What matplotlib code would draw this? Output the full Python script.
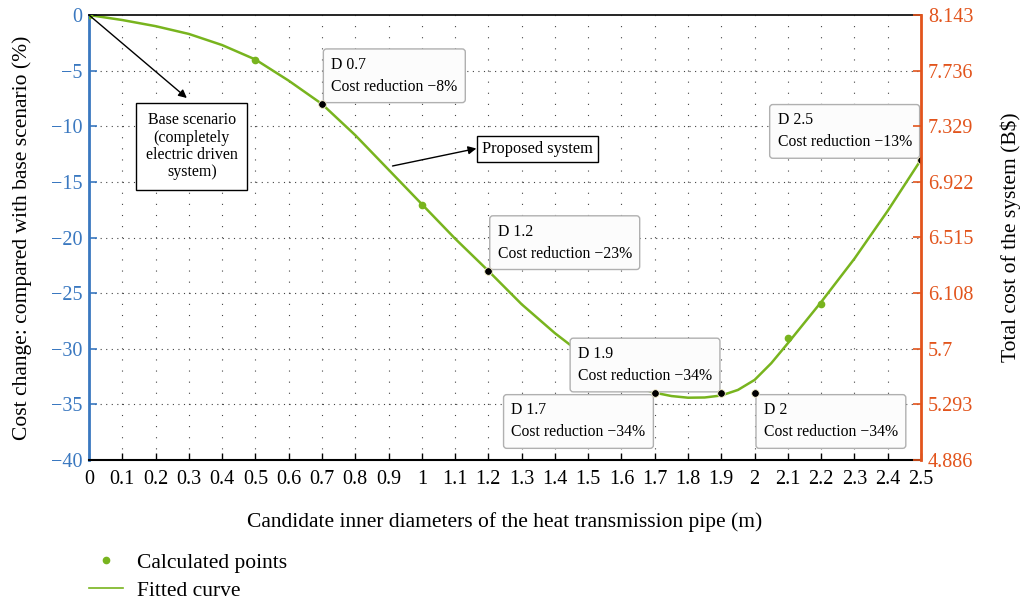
import numpy as np
import matplotlib.pyplot as plt
from matplotlib.lines import Line2D

plt.rcParams['font.family'] = ['Liberation Serif', 'DejaVu Serif']
plt.rcParams['axes.unicode_minus'] = True

GREEN = '#78b41e'
BLUE = '#3a78c0'
ORANGE = '#e2541c'

# calculated points (diameter in m, cost change in %)
calc_d = [0, 0.5, 0.7, 1.0, 1.2, 1.7, 1.9, 2.0, 2.1, 2.2, 2.5]
calc_pct = [0, -4.0, -8, -17.1, -23, -34, -34, -34, -29.0, -26.0, -13]

# highlighted candidates
key_d = [0.7, 1.2, 1.7, 1.9, 2.0, 2.5]
key_pct = [-8, -23, -34, -34, -34, -13]
key_names = ['D 0.7', 'D 1.2', 'D 1.7', 'D 1.9', 'D 2', 'D 2.5']
reductions = ['\u22128%', '\u221223%', '\u221234%', '\u221234%', '\u221234%', '\u221213%']

# fitted curve samples
fit_d = [0, 0.1, 0.2, 0.3, 0.4, 0.5, 0.6, 0.7, 0.8, 0.9, 1.0, 1.1, 1.2, 1.3,
         1.4, 1.5, 1.6, 1.65, 1.7, 1.75, 1.8, 1.85, 1.9, 1.95, 2.0, 2.05, 2.1,
         2.2, 2.3, 2.4, 2.5]
fit_pct = [0, -0.45, -1.0, -1.7, -2.7, -4.0, -5.9, -8.0, -10.8, -13.9, -17.0,
           -20.1, -23.0, -26.0, -28.6, -30.9, -32.8, -33.5, -33.95, -34.25,
           -34.4, -34.38, -34.2, -33.7, -32.8, -31.3, -29.5, -25.8, -21.9,
           -17.6, -13.0]

x_ticks = [round(0.1 * i, 1) for i in range(26)]
x_labels = ['0', '0.1', '0.2', '0.3', '0.4', '0.5', '0.6', '0.7', '0.8', '0.9',
            '1', '1.1', '1.2', '1.3', '1.4', '1.5', '1.6', '1.7', '1.8', '1.9',
            '2', '2.1', '2.2', '2.3', '2.4', '2.5']
left_ticks = [0, -5, -10, -15, -20, -25, -30, -35, -40]
right_ticks = [4.886, 5.293, 5.7, 6.108, 6.515, 6.922, 7.329, 7.736, 8.143]
right_labels = ['4.886', '5.293', '5.7', '6.108', '6.515', '6.922', '7.329',
                '7.736', '8.143']

fig = plt.figure(figsize=(10.23, 6.01), dpi=100)
ax = fig.add_axes([0.087, 0.2346, 0.8133, 0.7404])
ax.set_xlim(0, 2.5)
ax.set_ylim(-40, 0)

# dotted grid
for xv in x_ticks[1:-1]:
    ax.axvline(xv, color='#444444', lw=0.8, ls=(0, (1, 9)), zorder=0)
for yv in left_ticks[1:-1]:
    ax.axhline(yv, color='#444444', lw=0.8, ls=(0, (1, 4)), zorder=0)

ax.plot(fit_d, fit_pct, color=GREEN, lw=1.8, zorder=2)
ax.plot(calc_d, calc_pct, 'o', color=GREEN, ms=4.5, zorder=3)
ax.plot(key_d, key_pct, 'o', color='black', mec='#fff6d8', mew=0.6, ms=5.5, zorder=6)

ax.set_xticks(x_ticks)
ax.set_xticklabels(x_labels)
ax.set_yticks(left_ticks)
ax.tick_params(axis='x', direction='in', length=5, width=1, pad=7, labelsize=14.5,
               colors='black')
ax.tick_params(axis='y', direction='in', length=6, width=1.2, colors=BLUE,
               labelsize=14.5, pad=5)
ax.spines['left'].set_color(BLUE)
ax.spines['left'].set_linewidth(2)
ax.spines['right'].set_visible(False)
ax.spines['bottom'].set_linewidth(1.5)
ax.spines['top'].set_linewidth(1.2)
ax.set_xlabel('Candidate inner diameters of the heat transmission pipe (m)', fontsize=15.5)
ax.xaxis.set_label_coords(0.5, -0.117)
ax.set_ylabel('Cost change: compared with base scenario (%)', fontsize=15.5)
ax.yaxis.set_label_coords(-0.069, 0.5)

ax2 = ax.twinx()
ax2.set_ylim(right_ticks[0], right_ticks[-1])
ax2.set_yticks(right_ticks)
ax2.set_yticklabels(right_labels)
ax2.tick_params(axis='y', direction='in', length=6, width=1.2, colors=ORANGE,
                labelsize=14.5, pad=5)
ax2.spines['right'].set_color(ORANGE)
ax2.spines['right'].set_linewidth(2)
for s in ['left', 'top', 'bottom']:
    ax2.spines[s].set_visible(False)
ax2.set_ylabel('Total cost of the system (B$)', fontsize=15.5)
ax2.yaxis.set_label_coords(1.095, 0.5)

# candidate labels, each box sits on one corner of its point
corners = ['bl', 'bl', 'tr', 'br', 'tl', 'br']
fs = 11.3
pad = 0.5
off = pad * fs + 1
box = dict(boxstyle='round,pad=%.2f,rounding_size=0.2' % pad, fc='#fcfcfc',
           ec='#b0b0b0', lw=1)
for d, p, name, red, c in zip(key_d, key_pct, key_names, reductions, corners):
    dx = off if c[1] == 'l' else -off
    dy = off if c[0] == 'b' else -off
    ax.annotate(name + '\nCost reduction ' + red, xy=(d, p), xytext=(dx, dy),
                textcoords='offset points', ha='left' if c[1] == 'l' else 'right',
                va='bottom' if c[0] == 'b' else 'top', multialignment='left',
                fontsize=fs, linespacing=1.5, bbox=box, zorder=5)

# base scenario and proposed system callouts
ax.annotate('', xy=(0.294, -7.46), xytext=(0, 0),
            arrowprops=dict(arrowstyle='-|>', color='black', lw=1,
                            mutation_scale=12, shrinkA=0, shrinkB=0), zorder=4)
ax.text(0.309, -11.8, 'Base scenario\n(completely\nelectric driven\nsystem)',
        ha='center', va='center', fontsize=11.5, linespacing=1.12, zorder=5,
        bbox=dict(boxstyle='square,pad=0.6', fc='white', ec='black', lw=1))
ax.annotate('', xy=(1.164, -12.0), xytext=(0.912, -13.57),
            arrowprops=dict(arrowstyle='-|>', color='black', lw=1,
                            mutation_scale=12, shrinkA=0, shrinkB=0), zorder=4)
ax.text(1.347, -12.04, 'Proposed system', ha='center', va='center', fontsize=11.8,
        zorder=5, bbox=dict(boxstyle='square,pad=0.3', fc='white', ec='black', lw=1))

handles = [Line2D([], [], ls='none', marker='o', color=GREEN, ms=4.5),
           Line2D([], [], color=GREEN, lw=1.2)]
fig.legend(handles, ['Calculated points', 'Fitted curve'], loc='upper left',
           bbox_to_anchor=(0.087, 0.08), frameon=False, fontsize=15.5,
           handlelength=1.6, handletextpad=0.65, labelspacing=0.35, borderpad=0,
           borderaxespad=0)

fig.savefig('out.png', dpi=100)
